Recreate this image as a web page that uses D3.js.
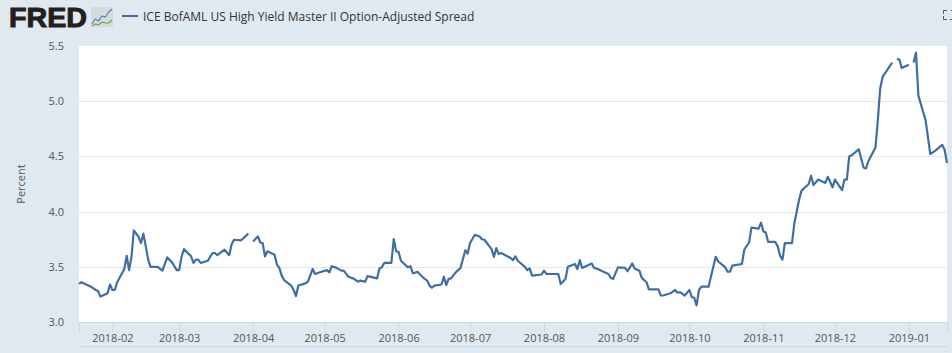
<!DOCTYPE html>
<html><head><meta charset="utf-8">
<script src="https://cdn.jsdelivr.net/npm/d3@7"></script>
<style>html,body{margin:0;padding:0;background:#e1e9f0;overflow:hidden}svg{display:block}text{font-family:"Open Sans",sans-serif}</style>
</head><body><svg id="c" width="952" height="353"></svg>
<script>
const seriesName = "ICE BofAML US High Yield Master II Option-Adjusted Spread";
const axisLabel = "Percent";
const yTicks = [3.0,3.5,4.0,4.5,5.0,5.5];
const xTickDates = ["2018-02-01","2018-03-01","2018-04-01","2018-05-01","2018-06-01","2018-07-01","2018-08-01","2018-09-01","2018-10-01","2018-11-01","2018-12-01","2019-01-01"];
// [date, percent]; null marks a missing observation
const spreadJan = [["2018-01-18",3.345],["2018-01-19",3.36],["2018-01-21",3.34],["2018-01-23",3.32],["2018-01-25",3.29],["2018-01-26",3.28],["2018-01-27",3.23],["2018-01-30",3.26],["2018-01-31",3.34]];
const spreadFeb = [["2018-02-01",3.29],["2018-02-02",3.29],["2018-02-03",3.36],["2018-02-06",3.48],["2018-02-07",3.60],["2018-02-08",3.47],["2018-02-09",3.59],["2018-02-10",3.83],["2018-02-12",3.77],["2018-02-13",3.715],["2018-02-14",3.80],["2018-02-15",3.685],["2018-02-16",3.565],["2018-02-17",3.50],["2018-02-20",3.50],["2018-02-22",3.465],["2018-02-24",3.585],["2018-02-26",3.54],["2018-02-28",3.47]];
const spreadMar = [["2018-03-01",3.47],["2018-03-02",3.59],["2018-03-03",3.66],["2018-03-06",3.595],["2018-03-07",3.535],["2018-03-08",3.565],["2018-03-09",3.565],["2018-03-10",3.535],["2018-03-13",3.555],["2018-03-15",3.625],["2018-03-16",3.625],["2018-03-17",3.605],["2018-03-20",3.655],["2018-03-22",3.605],["2018-03-23",3.705],["2018-03-24",3.745],["2018-03-27",3.74],["2018-03-30",3.80],["2018-03-31",null]];
const spreadApr = [["2018-04-01",3.73],["2018-04-03",3.775],["2018-04-04",3.72],["2018-04-05",3.715],["2018-04-06",3.595],["2018-04-07",3.64],["2018-04-10",3.61],["2018-04-11",3.52],["2018-04-12",3.49],["2018-04-13",3.42],["2018-04-14",3.38],["2018-04-17",3.33],["2018-04-18",3.29],["2018-04-19",3.235],["2018-04-20",3.33],["2018-04-23",3.35],["2018-04-24",3.365],["2018-04-26",3.48],["2018-04-27",3.435],["2018-04-29",3.45]];
const spreadMay = [["2018-05-02",3.47],["2018-05-03",3.45],["2018-05-04",3.505],["2018-05-06",3.49],["2018-05-08",3.465],["2018-05-09",3.465],["2018-05-11",3.41],["2018-05-13",3.395],["2018-05-15",3.365],["2018-05-16",3.375],["2018-05-18",3.365],["2018-05-19",3.415],["2018-05-23",3.395],["2018-05-24",3.485],["2018-05-25",3.495],["2018-05-26",3.535],["2018-05-29",3.535],["2018-05-30",3.75],["2018-05-31",3.64]];
const spreadJun = [["2018-06-01",3.635],["2018-06-02",3.555],["2018-06-03",3.535],["2018-06-05",3.495],["2018-06-06",3.505],["2018-06-07",3.44],["2018-06-09",3.455],["2018-06-10",3.43],["2018-06-12",3.39],["2018-06-13",3.375],["2018-06-14",3.33],["2018-06-15",3.31],["2018-06-16",3.33],["2018-06-19",3.34],["2018-06-20",3.41],["2018-06-21",3.335],["2018-06-22",3.39],["2018-06-23",3.395],["2018-06-25",3.45],["2018-06-27",3.49],["2018-06-29",3.65],["2018-06-30",3.62]];
const spreadJul = [["2018-07-01",3.715],["2018-07-03",3.79],["2018-07-05",3.775],["2018-07-06",3.75],["2018-07-07",3.745],["2018-07-10",3.66],["2018-07-11",3.59],["2018-07-12",3.67],["2018-07-13",3.615],["2018-07-14",3.625],["2018-07-18",3.58],["2018-07-19",3.56],["2018-07-20",3.595],["2018-07-21",3.555],["2018-07-24",3.50],["2018-07-25",3.47],["2018-07-26",3.485],["2018-07-27",3.42],["2018-07-31",3.43]];
const spreadAug = [["2018-08-01",3.465],["2018-08-02",3.435],["2018-08-07",3.435],["2018-08-08",3.345],["2018-08-10",3.39],["2018-08-11",3.50],["2018-08-14",3.525],["2018-08-15",3.48],["2018-08-16",3.56],["2018-08-17",3.49],["2018-08-21",3.53],["2018-08-22",3.49],["2018-08-23",3.485],["2018-08-28",3.435],["2018-08-29",3.40],["2018-08-30",3.39]];
const spreadSep = [["2018-09-01",3.495],["2018-09-04",3.49],["2018-09-05",3.46],["2018-09-07",3.53],["2018-09-08",3.485],["2018-09-10",3.465],["2018-09-11",3.40],["2018-09-13",3.36],["2018-09-14",3.295],["2018-09-18",3.295],["2018-09-19",3.24],["2018-09-20",3.24],["2018-09-23",3.26],["2018-09-25",3.29],["2018-09-26",3.265],["2018-09-27",3.27],["2018-09-29",3.24]];
const spreadOct = [["2018-10-01",3.29],["2018-10-02",3.225],["2018-10-03",3.22],["2018-10-04",3.15],["2018-10-05",3.29],["2018-10-06",3.32],["2018-10-09",3.32],["2018-10-12",3.59],["2018-10-13",3.55],["2018-10-16",3.495],["2018-10-17",3.455],["2018-10-18",3.455],["2018-10-19",3.51],["2018-10-23",3.525],["2018-10-24",3.655],["2018-10-26",3.72],["2018-10-27",3.855],["2018-10-30",3.845],["2018-10-31",3.90]];
const spreadNov = [["2018-11-01",3.82],["2018-11-02",3.81],["2018-11-03",3.725],["2018-11-06",3.725],["2018-11-07",3.685],["2018-11-08",3.60],["2018-11-09",3.565],["2018-11-10",3.715],["2018-11-13",3.715],["2018-11-14",3.895],["2018-11-16",4.11],["2018-11-17",4.19],["2018-11-20",4.25],["2018-11-21",4.325],["2018-11-22",4.24],["2018-11-24",4.29],["2018-11-27",4.26],["2018-11-28",4.315],["2018-11-30",4.22]];
const spreadDec = [["2018-12-01",4.29],["2018-12-04",4.195],["2018-12-05",4.29],["2018-12-06",4.29],["2018-12-07",4.50],["2018-12-08",4.51],["2018-12-11",4.565],["2018-12-13",4.40],["2018-12-14",4.39],["2018-12-15",4.455],["2018-12-18",4.58],["2018-12-19",4.83],["2018-12-20",5.12],["2018-12-21",5.22],["2018-12-25",5.35],["2018-12-26",null],["2018-12-27",5.38],["2018-12-28",5.38],["2018-12-29",5.30]];
const spreadJan19 = [["2019-01-01",5.33],["2019-01-02",null],["2019-01-03",5.35],["2019-01-04",5.44],["2019-01-05",5.05],["2019-01-08",4.83],["2019-01-10",4.52],["2019-01-12",4.55],["2019-01-15",4.605],["2019-01-16",4.56],["2019-01-17",4.44]];
const logoBlue = [3,8,6,11,10,15,18];
const logoGreen = [1,3,2,5,4,4,7];

const parse = d3.utcParse("%Y-%m-%d");
const data = [spreadJan,spreadFeb,spreadMar,spreadApr,spreadMay,spreadJun,spreadJul,spreadAug,spreadSep,spreadOct,spreadNov,spreadDec,spreadJan19].flat().map(([d,v])=>({date:parse(d),value:v}));

const L=79,R=947,T=46,B=322;
const svg=d3.select("#c");
const x=d3.scaleUtc().domain([parse("2018-01-18"),parse("2019-01-17")]).range([L,R]);
const y=d3.scaleLinear().domain([3,5.5]).range([B,T]);

svg.append("rect").attr("width",952).attr("height",353).attr("fill","#e1e9f0");
svg.append("rect").attr("x",L).attr("y",T).attr("width",R-L).attr("height",B-T).attr("fill","#fff");

const gy=svg.append("g").attr("transform",`translate(${L},0)`).call(d3.axisLeft(y).tickValues(yTicks).tickFormat(d3.format(".1f")).tickSize(0).tickPadding(15));
gy.select(".domain").remove();
gy.selectAll("text").attr("fill","#555").style("font-size","11px").style("font-family",'"Open Sans",sans-serif');
svg.append("g").selectAll("line").data(yTicks.filter(t=>t>3&&t<5.5)).join("line")
  .attr("x1",L).attr("x2",R).attr("y1",d=>Math.round(y(d))+.5).attr("y2",d=>Math.round(y(d))+.5).attr("stroke","#e6e6e6");

const gx=svg.append("g").attr("transform",`translate(0,${B})`).call(d3.axisBottom(x).tickValues(xTickDates.map(parse)).tickFormat(d3.utcFormat("%Y-%m")).tickSize(10).tickPadding(2));
gx.select(".domain").attr("stroke","#ccd6eb");
gx.selectAll(".tick line").attr("stroke","#ccd6eb");
gx.selectAll("text").attr("fill","#555").style("font-size","11px").style("font-family",'"Open Sans",sans-serif');
svg.append("line").attr("x1",L).attr("x2",R).attr("y1",346.5).attr("y2",346.5).attr("stroke","#ccd6eb");

svg.append("text").attr("transform","translate(25,184) rotate(-90)").attr("text-anchor","middle").attr("fill","#555").style("font-size","11px").text(axisLabel);

const line=d3.line().defined(d=>d.value!==null).x(d=>x(d.date)).y(d=>y(d.value));
svg.append("path").datum(data).attr("d",line).attr("fill","none").attr("stroke","#3f6ea6").attr("stroke-width",2.2).attr("stroke-linejoin","round");

svg.append("line").attr("x1",122).attr("x2",138).attr("y1",16).attr("y2",16).attr("stroke","#3f6ea6").attr("stroke-width",2);
svg.append("text").attr("x",143).attr("y",21).attr("fill","#333").style("font-size","12px").text(seriesName);

svg.append("text").attr("x",9).attr("y",27).attr("fill","#231f20").attr("stroke","#231f20").attr("stroke-width",1).style("font-family",'"Liberation Sans",sans-serif').style("font-weight",700).style("font-size","28px").attr("textLength",78).attr("lengthAdjust","spacingAndGlyphs").text("FRED");
const lg=svg.append("g").attr("transform","translate(91,7)");
lg.append("rect").attr("width",22).attr("height",20).attr("fill","#d3dbe0");
const lx=d3.scaleLinear().domain([0,6]).range([1,21]), ly=d3.scaleLinear().domain([0,20]).range([20,0]);
const l2=d3.line().x((d,i)=>lx(i)).y(d=>ly(d));
lg.append("path").attr("d",l2(logoBlue)).attr("fill","none").attr("stroke","#4f7fb5").attr("stroke-width",1.1);
lg.append("path").attr("d",l2(logoGreen)).attr("fill","none").attr("stroke","#6f9e3f").attr("stroke-width",1.1);

svg.append("path").attr("d","M943.5 14V10.5H947 M951 10.5H952 M943.5 16V19.5H947 M950 19.5H952").attr("fill","none").attr("stroke","#555");
</script></body></html>
